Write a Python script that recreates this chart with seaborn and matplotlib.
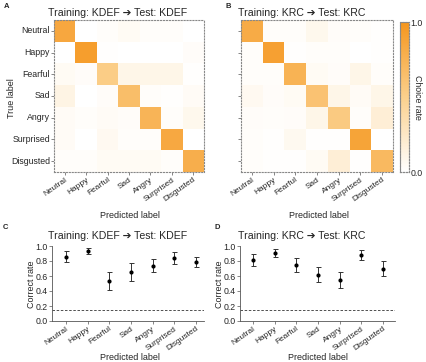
import numpy as np
import pandas as pd
import matplotlib
matplotlib.use("Agg")
import matplotlib.pyplot as plt
from matplotlib.colors import LinearSegmentedColormap
import seaborn as sns

sns.set_style("white")
plt.rcParams['font.family'] = ['Liberation Sans', 'DejaVu Sans']

emotions = ['Neutral', 'Happy', 'Fearful', 'Sad', 'Angry', 'Surprised', 'Disgusted']

# confusion matrices (rows = true label, cols = predicted label)
conf_kdef = [
    [0.85, 0.00, 0.02, 0.05, 0.02, 0.02, 0.00],
    [0.00, 0.93, 0.01, 0.00, 0.00, 0.00, 0.03],
    [0.05, 0.03, 0.53, 0.10, 0.10, 0.10, 0.01],
    [0.12, 0.00, 0.03, 0.66, 0.02, 0.01, 0.04],
    [0.04, 0.02, 0.04, 0.03, 0.74, 0.02, 0.08],
    [0.04, 0.00, 0.06, 0.02, 0.02, 0.84, 0.00],
    [0.02, 0.02, 0.05, 0.05, 0.05, 0.02, 0.79],
]
conf_krc = [
    [0.82, 0.02, 0.02, 0.08, 0.03, 0.02, 0.01],
    [0.02, 0.91, 0.01, 0.02, 0.02, 0.00, 0.01],
    [0.02, 0.02, 0.75, 0.05, 0.03, 0.10, 0.02],
    [0.06, 0.03, 0.05, 0.62, 0.10, 0.04, 0.10],
    [0.03, 0.02, 0.03, 0.10, 0.55, 0.02, 0.18],
    [0.02, 0.01, 0.07, 0.01, 0.01, 0.88, 0.00],
    [0.02, 0.01, 0.01, 0.05, 0.18, 0.01, 0.70],
]

# correct rate (mean, error)
rate_kdef = [0.86, 0.93, 0.53, 0.66, 0.74, 0.84, 0.79]
err_kdef = [0.07, 0.04, 0.12, 0.12, 0.09, 0.08, 0.07]
rate_krc = [0.82, 0.91, 0.75, 0.62, 0.55, 0.88, 0.70]
err_krc = [0.08, 0.05, 0.09, 0.10, 0.11, 0.07, 0.10]
chance = 1 / 7

titles = ['Training: KDEF \u2794 Test: KDEF', 'Training: KRC \u2794 Test: KRC']

W, H = 426, 362
fig = plt.figure(figsize=(W / 100, H / 100), dpi=100)


def px_axes(x0, y0, x1, y1):
    return fig.add_axes([x0 / W, 1 - y1 / H, (x1 - x0) / W, (y1 - y0) / H])


cmap = LinearSegmentedColormap.from_list('orng', ['#FFFFFF', '#FBD08C', '#F5961E'])
ticksize = 6.3
xticksize = 6.0
labelsize = 6.5
titlesize = 7.6

ax_a = px_axes(54, 20, 204, 172)
ax_b = px_axes(241, 20, 393, 172)
cax = px_axes(400, 22, 409, 172)

for ax, mat, show_y in [(ax_a, conf_kdef, True), (ax_b, conf_krc, False)]:
    df = pd.DataFrame(mat, index=emotions, columns=emotions)
    sns.heatmap(df, ax=ax, cmap=cmap, vmin=0, vmax=1, square=False,
                cbar=(ax is ax_b), cbar_ax=(cax if ax is ax_b else None),
                cbar_kws={'ticks': [0, 1]})
    for s in ax.spines.values():
        s.set_visible(True)
        s.set_linestyle(':')
        s.set_color('#888888')
        s.set_linewidth(0.8)
    ax.tick_params(axis='both', length=2, width=0.5, labelsize=ticksize, pad=1,
                   bottom=True, left=True, color='#555555')
    ax.set_xticklabels(emotions, rotation=35, ha='right', rotation_mode='anchor',
                       fontsize=xticksize)
    if show_y:
        ax.set_yticklabels(emotions, rotation=0)
    else:
        ax.set_yticklabels([])
    ax.set_xlabel('')
    ax.set_ylabel('')

cax.set_yticklabels(['0.0', '1.0'])
cax.tick_params(labelsize=ticksize, length=0, pad=1)
for s in cax.spines.values():
    s.set_visible(True)
    s.set_linewidth(0.8)
    s.set_linestyle(':')
    s.set_color('#888888')
fig.text(413 / W, 1 - 97 / H, 'Choice rate', rotation=270, fontsize=ticksize,
         ha='left', va='center')

ax_c = px_axes(52, 246, 204, 321)
ax_d = px_axes(240, 246, 395, 321)

for ax, rate, err, xl in [(ax_c, rate_kdef, err_kdef, (-0.65, 6.37)),
                          (ax_d, rate_krc, err_krc, (-0.6, 6.55))]:
    df = pd.DataFrame({'emotion': emotions, 'rate': rate, 'err': err})
    xs = np.arange(len(emotions))
    ax.errorbar(xs, df['rate'], yerr=df['err'], fmt='none', ecolor='#333333',
                elinewidth=0.7, capsize=1.8, capthick=0.7)
    sns.scatterplot(data=df, x='emotion', y='rate', ax=ax, color='black', s=9,
                    marker='o', edgecolor='black', linewidth=0, zorder=3)
    ax.axhline(chance, color='#333333', linestyle='--', linewidth=0.6, dashes=(3, 2))
    ax.set_xlim(*xl)
    ax.set_ylim(0, 1.0)
    ax.set_yticks([0, 0.2, 0.4, 0.6, 0.8, 1.0])
    ax.set_yticklabels(['0.0', '0.2', '0.4', '0.6', '0.8', '1.0'])
    ax.set_xticks(xs)
    ax.set_xticklabels(emotions, rotation=35, ha='right', rotation_mode='anchor',
                       fontsize=xticksize)
    ax.tick_params(axis='both', length=2, width=0.5, labelsize=ticksize, pad=1,
                   bottom=True, left=True, color='#555555')
    ax.tick_params(axis='x', labelsize=xticksize)
    ax.set_xlabel('')
    ax.set_ylabel('')
    sns.despine(ax=ax)
    for s in ['left', 'bottom']:
        ax.spines[s].set_linewidth(0.6)
        ax.spines[s].set_color('#555555')

# titles
fig.text(118 / W, 1 - 13 / H, titles[0], fontsize=titlesize, ha='center', va='center')
fig.text(302 / W, 1 - 13 / H, titles[1], fontsize=titlesize, ha='center', va='center')
fig.text(118 / W, 1 - 236 / H, titles[0], fontsize=titlesize, ha='center', va='center')
fig.text(302 / W, 1 - 236 / H, titles[1], fontsize=titlesize, ha='center', va='center')

# axis labels
for x, y in [(130, 215), (319, 215), (130, 357.5), (318, 357.5)]:
    fig.text(x / W, 1 - y / H, 'Predicted label', fontsize=labelsize, ha='center', va='center')
fig.text(11 / W, 1 - 98 / H, 'True label', fontsize=labelsize, rotation=90, ha='center', va='center')
fig.text(32 / W, 1 - 284 / H, 'Correct rate', fontsize=labelsize, rotation=90, ha='center', va='center')
fig.text(219 / W, 1 - 284 / H, 'Correct rate', fontsize=labelsize, rotation=90, ha='center', va='center')

# panel letters
for letter, x, y in [('A', 4, 6), ('B', 226, 6), ('C', 3, 228), ('D', 214, 228)]:
    fig.text(x / W, 1 - y / H, letter, fontsize=5.5, fontweight='bold', ha='left', va='center')

fig.savefig('out.png', dpi=100, facecolor='white')
